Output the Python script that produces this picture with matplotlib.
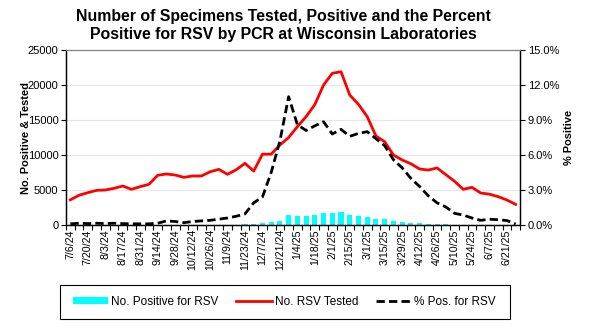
import matplotlib
matplotlib.use("Agg")
import matplotlib.pyplot as plt
import numpy as np
from matplotlib.patches import Patch, Rectangle
from matplotlib.lines import Line2D
from matplotlib.ticker import FuncFormatter, FixedLocator, NullFormatter

plt.rcParams['font.family'] = ['Liberation Sans', 'DejaVu Sans']

weeks = ["7/6/24", "7/13/24", "7/20/24", "7/27/24", "8/3/24", "8/10/24", "8/17/24", "8/24/24",
         "8/31/24", "9/7/24", "9/14/24", "9/21/24", "9/28/24", "10/5/24", "10/12/24", "10/19/24",
         "10/26/24", "11/2/24", "11/9/24", "11/16/24", "11/23/24", "11/30/24", "12/7/24", "12/14/24",
         "12/21/24", "12/28/24", "1/4/25", "1/11/25", "1/18/25", "1/25/25", "2/1/25", "2/8/25",
         "2/15/25", "2/22/25", "3/1/25", "3/8/25", "3/15/25", "3/22/25", "3/29/25", "4/5/25",
         "4/12/25", "4/19/25", "4/26/25", "5/3/25", "5/10/25", "5/17/25", "5/24/25", "5/31/25",
         "6/7/25", "6/14/25", "6/21/25", "6/28/25"]

tested = [3600, 4250, 4620, 4950, 5000, 5240, 5570, 5100, 5480, 5810, 7100, 7290,
          7140, 6810, 7000, 7000, 7600, 7950, 7240, 7900, 8810, 7700, 10120, 10120,
          11430, 12500, 14050, 15480, 17200, 20000, 21670, 21900, 18570, 17240, 15480, 12710,
          11900, 10000, 9290, 8750, 8000, 7850, 8150, 7200, 6250, 5100, 5380, 4570,
          4400, 4050, 3570, 2950]

positive = [20, 25, 20, 25, 20, 20, 20, 15, 15, 15, 20, 30,
            30, 25, 30, 35, 40, 45, 55, 70, 90, 145, 330, 470,
            600, 1430, 1250, 1310, 1430, 1760, 1760, 1880, 1430, 1290, 1110, 857,
            857, 571, 400, 240, 240, 140, 140, 100, 60, 50, 40, 20,
            25, 20, 15, 5]

pct_pos = [0.10, 0.15, 0.12, 0.15, 0.12, 0.15, 0.12, 0.10, 0.10, 0.10, 0.15, 0.35,
           0.30, 0.20, 0.30, 0.35, 0.40, 0.50, 0.60, 0.75, 0.95, 1.90, 2.40, 4.50,
           7.20, 11.00, 8.60, 8.10, 8.50, 8.85, 7.80, 8.20, 7.60, 7.85, 8.00, 7.40,
           6.80, 5.60, 4.90, 4.00, 3.30, 2.50, 1.90, 1.55, 1.00, 0.85, 0.60, 0.40,
           0.50, 0.45, 0.38, 0.08]

title_lines = ["Number of Specimens Tested, Positive and the Percent",
               "Positive for RSV by PCR at Wisconsin Laboratories"]

x = np.arange(len(weeks))
W, H = 590, 333

fig = plt.figure(figsize=(5.9, 3.33), dpi=100)
ax = fig.add_axes([66/W, 1-225/H, (520-66)/W, 175/H])
ax2 = ax.twinx()

ax.bar(x, positive, width=0.58, color='#00FFFF', zorder=2)
ax.plot(x, tested, color='#FF0000', lw=2.0, zorder=3, solid_joinstyle='round')
ax2.plot(x, pct_pos, color='black', lw=2.0, dashes=(3.0, 1.5), zorder=3)

ax.set_xlim(-0.5, len(weeks) - 0.5)
ax.set_ylim(0, 25000)
ax2.set_ylim(0, 15)
ax.set_yticks(np.arange(0, 25001, 5000))
ax2.set_yticks(np.arange(0, 15.01, 3))
ax2.yaxis.set_major_formatter(FuncFormatter(lambda v, p: f"{v:.1f}%"))

ax.yaxis.grid(True, color='#E6E6E6', lw=0.8, zorder=0)
ax.set_axisbelow(True)

ax.set_xticks(x[::2])
ax.set_xticklabels(weeks[::2], rotation=90, fontsize=7.7)
ax.tick_params(axis='x', which='major', length=0, pad=3)
ax.xaxis.set_minor_locator(FixedLocator(np.arange(-0.5, len(weeks), 1.0)))
ax.xaxis.set_minor_formatter(NullFormatter())
ax.tick_params(axis='x', which='minor', length=3.5, width=0.8, direction='out')

ax.tick_params(axis='y', labelsize=8.0, length=3.5, width=0.8, pad=2)
ax2.tick_params(axis='y', labelsize=8.0, length=3.5, width=0.8, pad=2)

for a in (ax, ax2):
    a.spines['top'].set_color('#808080')
    a.spines['top'].set_linewidth(0.8)
    a.spines['left'].set_linewidth(0.9)
    a.spines['right'].set_linewidth(0.9)
    a.spines['bottom'].set_linewidth(0.9)

ax.set_ylabel("No. Positive & Tested", fontsize=7.9, fontweight='bold')
ax.yaxis.set_label_coords(-0.078, 0.5)
ax2.set_ylabel("% Positive", fontsize=7.9, fontweight='bold')
ax2.yaxis.set_label_coords(1.097, 0.5)

fig.text(283/W, 1-16/H, title_lines[0], ha='center', va='center',
         fontsize=11.4, fontweight='bold')
fig.text(283/W, 1-35/H, title_lines[1], ha='center', va='center',
         fontsize=11.4, fontweight='bold')

# legend frame
fig.patches.append(Rectangle((60/W, 1-319/H), 450/W, 34/H, transform=fig.transFigure,
                             facecolor='white', edgecolor='black', lw=0.8, zorder=0))

handles = [Patch(facecolor='#00FFFF', edgecolor='none'),
           Line2D([], [], color='#FF0000', lw=2.0),
           Line2D([], [], color='black', lw=2.0, dashes=(3.0, 1.5))]
labels = ["No. Positive for RSV", "No. RSV Tested", "% Pos. for RSV"]
leg = fig.legend(handles, labels, loc='center left', ncol=3,
                 bbox_to_anchor=(73/W, 1-302/H),
                 frameon=False, fontsize=8.5,
                 handlelength=3.0, handleheight=0.55, handletextpad=0.25,
                 borderaxespad=0, borderpad=0, columnspacing=1.5)

fig.savefig("out.png", dpi=100)
